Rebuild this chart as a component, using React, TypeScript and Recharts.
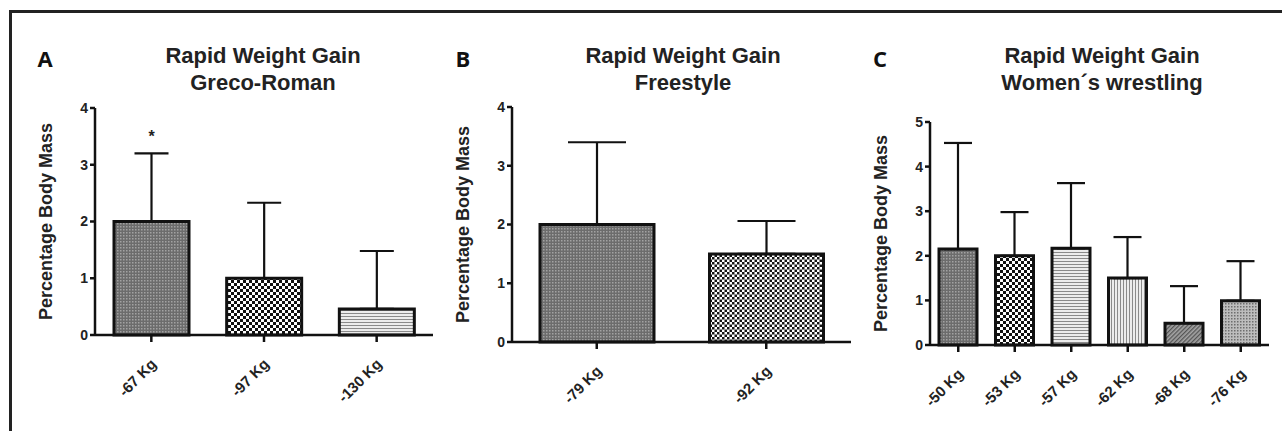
import React from 'react';
import { BarChart, Bar, XAxis, YAxis, ErrorBar, Cell, LabelList } from 'recharts';

const FONT = '"Liberation Sans", Arial, Helvetica, sans-serif';

// Panel A - Greco-Roman
const catsA = ['-67 Kg', '-97 Kg', '-130 Kg'];
const meanA = [2.0, 1.0, 0.46];
const sdA = [1.2, 1.33, 1.02];
const sigA = ['*', '', ''];
const fillsA = ['fineGray', 'checker', 'hlines'];

// Panel B - Freestyle
const catsB = ['-79 Kg', '-92 Kg'];
const meanB = [2.0, 1.5];
const sdB = [1.4, 0.56];
const fillsB = ['fineGray', 'checkerFine'];

// Panel C - Women's wrestling
const catsC = ['-50 Kg', '-53 Kg', '-57 Kg', '-62 Kg', '-68 Kg', '-76 Kg'];
const meanC = [2.15, 2.0, 2.17, 1.5, 0.49, 0.99];
const sdC = [2.38, 0.98, 1.46, 0.92, 0.83, 0.89];
const fillsC = ['fineGray', 'checker', 'hlines', 'vlines', 'diag', 'cross'];

const ticks4 = [0, 1, 2, 3, 4];
const ticks5 = [0, 1, 2, 3, 4, 5];

const toRows = (cats: string[], mean: number[], sd: number[], sig?: string[]) =>
  cats.map((c, i) => ({ name: c, mean: mean[i], sd: sd[i], sig: sig ? sig[i] : '' }));

const Patterns = () => (
  <svg width={0} height={0} style={{ position: 'absolute' }}>
    <defs>
      <pattern id="fineGray" width="3" height="3" patternUnits="userSpaceOnUse">
        <rect width="3" height="3" fill="#6c6c6c" />
        <rect width="1.5" height="1.5" fill="#a2a2a2" />
      </pattern>
      <pattern id="checker" width="6" height="6" patternUnits="userSpaceOnUse">
        <rect width="6" height="6" fill="#ffffff" />
        <rect width="3" height="3" fill="#111111" />
        <rect x="3" y="3" width="3" height="3" fill="#111111" />
      </pattern>
      <pattern id="checkerFine" width="5" height="5" patternUnits="userSpaceOnUse">
        <rect width="5" height="5" fill="#ffffff" />
        <rect width="2.5" height="2.5" fill="#151515" />
        <rect x="2.5" y="2.5" width="2.5" height="2.5" fill="#151515" />
      </pattern>
      <pattern id="hlines" width="4" height="3" patternUnits="userSpaceOnUse">
        <rect width="4" height="3" fill="#ececec" />
        <rect width="4" height="1" fill="#8a8a8a" />
      </pattern>
      <pattern id="vlines" width="3" height="4" patternUnits="userSpaceOnUse">
        <rect width="3" height="4" fill="#ececec" />
        <rect width="1" height="4" fill="#8a8a8a" />
      </pattern>
      <pattern id="diag" width="3" height="3" patternUnits="userSpaceOnUse" patternTransform="rotate(45)">
        <rect width="3" height="3" fill="#a4a4a4" />
        <rect width="1.3" height="3" fill="#555555" />
      </pattern>
      <pattern id="cross" width="3" height="3" patternUnits="userSpaceOnUse">
        <rect width="3" height="3" fill="#bdbdbd" />
        <rect width="1.5" height="1.5" fill="#6e6e6e" />
      </pattern>
    </defs>
  </svg>
);

const SlantTick = ({ x, y, payload }: any) => {
  const ax = x + 6;
  const ay = y + 21;
  return (
    <text
      x={ax}
      y={ay}
      transform={`rotate(-45, ${ax}, ${ay})`}
      textAnchor="end"
      fontFamily={FONT}
      fontWeight="bold"
      fontSize={15}
      fill="#222"
    >
      {payload.value}
    </text>
  );
};

const YTitle = ({ viewBox }: any) => {
  const cx = viewBox.x + 11;
  const cy = viewBox.y + viewBox.height / 2;
  return (
    <text
      x={cx}
      y={cy}
      transform={`rotate(-90, ${cx}, ${cy})`}
      textAnchor="middle"
      dominantBaseline="central"
      fontFamily={FONT}
      fontWeight="bold"
      fontSize={18}
      fill="#222"
    >
      Percentage Body Mass
    </text>
  );
};

interface PanelProps {
  rows: { name: string; mean: number; sd: number; sig: string }[];
  ticks: number[];
  fills: string[];
  box: { left: number; top: number; right: number; bottom: number };
  barSize: number;
  cap: number;
}

const Panel = ({ rows, ticks, fills, box, barSize, cap }: PanelProps) => {
  const m = { top: 20, right: 8, left: 20, bottom: 15 };
  const yw = 60;
  const xh = 60;
  const width = box.right - box.left + m.left + yw + m.right;
  const height = box.bottom - box.top + m.top + m.bottom + xh;
  return (
    <div style={{ position: 'absolute', left: box.left - m.left - yw, top: box.top - m.top }}>
      <BarChart width={width} height={height} data={rows} margin={m}>
        <XAxis
          dataKey="name"
          height={xh}
          interval={0}
          tickSize={7}
          tickMargin={2}
          tick={<SlantTick />}
          axisLine={{ stroke: '#111', strokeWidth: 2.5 }}
          tickLine={{ stroke: '#111', strokeWidth: 2.5 }}
        />
        <YAxis
          width={yw}
          domain={[0, ticks[ticks.length - 1]]}
          ticks={ticks}
          interval={0}
          tickSize={5}
          tickMargin={2}
          allowDecimals={false}
          axisLine={{ stroke: '#111', strokeWidth: 2.5 }}
          tickLine={{ stroke: '#111', strokeWidth: 2.5 }}
          tick={{ fill: '#222', fontSize: 14, fontWeight: 'bold', fontFamily: FONT }}
          label={<YTitle />}
        />
        <Bar dataKey="mean" barSize={barSize} stroke="#111" strokeWidth={3} isAnimationActive={false}>
          {rows.map((r, i) => (
            <Cell key={r.name} fill={`url(#${fills[i]})`} />
          ))}
          <ErrorBar
            dataKey={(d: any) => [0, d.sd]}
            direction="y"
            width={cap}
            stroke="#111"
            strokeWidth={2.2}
          />
          <LabelList
            dataKey="sig"
            content={(p: any) => {
              if (!p.value) return null;
              const r = rows[p.index];
              const perUnit = p.height / r.mean;
              const errTop = p.y - r.sd * perUnit;
              return (
                <text
                  x={p.x + p.width / 2}
                  y={errTop - 11}
                  textAnchor="middle"
                  fontFamily={FONT}
                  fontWeight="bold"
                  fontSize={16}
                  fill="#222"
                >
                  {p.value}
                </text>
              );
            }}
          />
        </Bar>
      </BarChart>
    </div>
  );
};

const Titles = () => {
  const title = { fontFamily: FONT, fontWeight: 'bold' as const, fontSize: 22, fill: '#222', textAnchor: 'middle' as const };
  const letter = { fontFamily: '"Open Sans", "Liberation Sans", sans-serif', fontWeight: 'bold' as const, fontSize: 22, fill: '#111', textAnchor: 'middle' as const };
  return (
    <svg width={1282} height={431} style={{ position: 'absolute', left: 0, top: 0, pointerEvents: 'none' }}>
      <text x={45} y={67} {...letter}>A</text>
      <text x={463} y={67} {...letter}>B</text>
      <text x={880} y={67} {...letter}>C</text>
      <text x={263} y={63} {...title}>Rapid Weight Gain</text>
      <text x={263} y={90} {...title}>Greco-Roman</text>
      <text x={683} y={63} {...title}>Rapid Weight Gain</text>
      <text x={683} y={90} {...title}>Freestyle</text>
      <text x={1102} y={63} {...title}>Rapid Weight Gain</text>
      <text x={1102} y={90} {...title}>Women´s wrestling</text>
    </svg>
  );
};

export default function App() {
  return (
    <div style={{ position: 'absolute', left: 0, top: 0, width: 1282, height: 431, background: '#fff', overflow: 'hidden' }}>
      <Patterns />
      <div
        style={{
          position: 'absolute',
          left: 9,
          top: 10,
          width: 1290,
          height: 440,
          borderTop: '3px solid #222',
          borderLeft: '3px solid #222',
        }}
      />
      <Titles />
      <Panel
        rows={toRows(catsA, meanA, sdA, sigA)}
        ticks={ticks4}
        fills={fillsA}
        box={{ left: 95, top: 108, right: 433, bottom: 335 }}
        barSize={75}
        cap={17}
      />
      <Panel
        rows={toRows(catsB, meanB, sdB)}
        ticks={ticks4}
        fills={fillsB}
        box={{ left: 512, top: 107, right: 851, bottom: 342 }}
        barSize={114}
        cap={29}
      />
      <Panel
        rows={toRows(catsC, meanC, sdC)}
        ticks={ticks5}
        fills={fillsC}
        box={{ left: 930, top: 122, right: 1269, bottom: 345 }}
        barSize={38}
        cap={14}
      />
    </div>
  );
}
